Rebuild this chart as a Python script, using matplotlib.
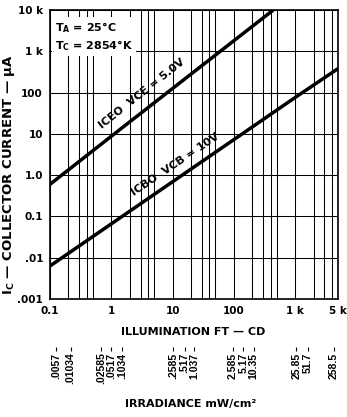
import matplotlib.pyplot as plt

plt.rcParams['font.family'] = ['DejaVu Sans']
plt.rcParams['font.weight'] = 'bold'
plt.rcParams['mathtext.fontset'] = 'custom'
plt.rcParams['mathtext.rm'] = 'DejaVu Sans:bold'
plt.rcParams['mathtext.it'] = 'DejaVu Sans:bold'
plt.rcParams['mathtext.bf'] = 'DejaVu Sans:bold'

# Collector current vs illumination (ft-cd -> uA)
iceo_fc = [0.1, 1.5, 440]
iceo_ua = [0.6, 14, 10000]
icbo_fc = [0.1, 1000, 5000]
icbo_ua = [0.0063, 76, 380]

x_ticks = [0.1, 1, 10, 100, 1000, 5000]
x_labels = ['0.1', '1', '10', '100', '1 k', '5 k']
y_ticks = [0.001, 0.01, 0.1, 1, 10, 100, 1000, 10000]
y_labels = ['.001', '.01', '0.1', '1.0', '10', '100', '1 k', '10 k']

# irradiance scale, placed under the illumination values
irr_fc = [0.127, 0.218, 0.68, 1.0, 1.5, 10.3, 15.7, 22.7, 95, 143, 210, 1040, 1590, 4300]
irr_labels = ['.0057', '.01034', '.02585', '.0517', '.1034', '.2585', '.517', '1.037',
              '2.585', '5.17', '10.35', '25.85', '51.7', '258.5']

fig = plt.figure(figsize=(3.47, 4.17), dpi=100)
ax = fig.add_axes([50 / 347, 1 - 299 / 417, 288 / 347, 289 / 417])
ax.set_xscale('log')
ax.set_yscale('log')
ax.set_xlim(0.1, 5000)
ax.set_ylim(0.001, 10000)

# grid: 1,2,3,4,5 per decade on x, decades on y
for e in range(-1, 4):
    for m in (1, 2, 3, 4, 5):
        ax.axvline(m * 10.0 ** e, color='black', lw=0.75, zorder=1)
for yv in y_ticks:
    ax.axhline(yv, color='black', lw=0.75, zorder=1)

ax.plot(iceo_fc, iceo_ua, color='black', lw=2.5, solid_capstyle='butt', zorder=3)
ax.plot(icbo_fc, icbo_ua, color='black', lw=2.5, solid_capstyle='butt', zorder=3)

ax.set_xticks(x_ticks)
ax.set_xticklabels(x_labels)
ax.set_yticks(y_ticks)
ax.set_yticklabels(y_labels)
ax.minorticks_off()
ax.tick_params(length=0, labelsize=7.5, pad=5)
for s in ax.spines.values():
    s.set_linewidth(1.2)

ax.annotate('ICEO  VCE = 5.0V', xy=(4.4, 50), xytext=(-5.0, 6.4),
            textcoords='offset points', rotation=38.3, rotation_mode='anchor',
            ha='center', va='baseline', fontsize=8, zorder=4)
ax.annotate('ICBO  VCB = 10V', xy=(15, 0.92), xytext=(-4.5, 6.7),
            textcoords='offset points', rotation=34, rotation_mode='anchor',
            ha='center', va='baseline', fontsize=8, zorder=4)

ax.text(0.017, 0.965, 'T$_\\mathrm{A}$ = 25°C\nT$_\\mathrm{C}$ = 2854°K', transform=ax.transAxes,
        ha='left', va='top', fontsize=8, linespacing=1.3, zorder=5,
        bbox=dict(facecolor='white', edgecolor='none', pad=2))

fig.text(9 / 347, 1 - 175 / 417, 'I$_\\mathrm{C}$ — COLLECTOR CURRENT — μA',
         rotation=90, ha='center', va='center', fontsize=9.5)
fig.text(193 / 347, 1 - 332 / 417, 'ILLUMINATION FT — CD', ha='center', va='center', fontsize=8)

# irradiance axis
ax2 = fig.add_axes([50 / 347, 1 - 347 / 417, 288 / 347, 0.0001])
ax2.set_xscale('log')
ax2.set_xlim(0.1, 5000)
ax2.set_yticks([])
for s in ax2.spines.values():
    s.set_visible(False)
ax2.set_xticks(irr_fc)
ax2.set_xticklabels(irr_labels, rotation=90, fontsize=7.5, family='Liberation Sans')
ax2.minorticks_off()
ax2.tick_params(axis='x', direction='out', length=3, width=0.8, pad=1)
fig.text(191 / 347, 1 - 404 / 417, 'IRRADIANCE mW/cm²', ha='center', va='center', fontsize=8)

fig.savefig('out.png', dpi=100)
